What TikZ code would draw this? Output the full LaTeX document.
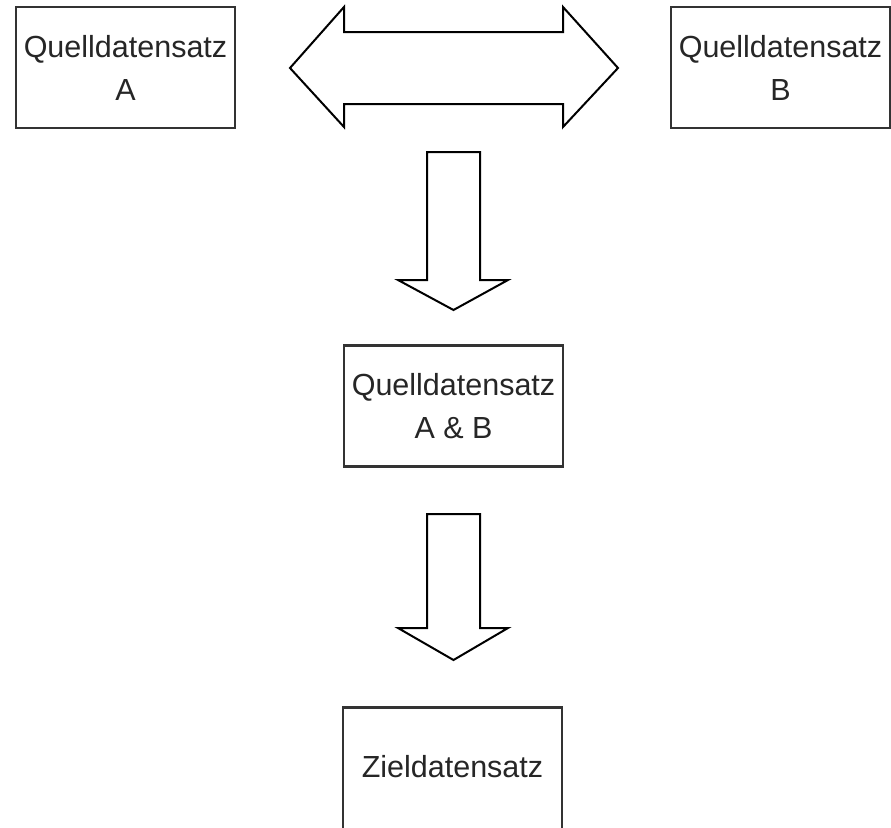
\documentclass[tikz,border=0pt]{standalone}
\usepackage{fontspec}
\setmainfont{Liberation Sans}
\begin{document}
\begin{tikzpicture}[x=1pt,y=-1pt,
  databox/.style={draw=black!80, line width=2.5pt, fill=white, minimum width=219pt, minimum height=121pt, inner sep=0pt, align=center, text=black!85, font=\fontsize{30.5}{43}\selectfont},
  blockarrow/.style={draw=black, line width=2pt, fill=white, line join=miter}]
\useasboundingbox (0,0) rectangle (891,827);
\clip (0,0) rectangle (891,827);
\node[databox] (A) at (125.5,67.5) {Quelldatensatz\\A};
\node[databox] (B) at (780.5,67.5) {Quelldatensatz\\B};
\node[databox] (AB) at (453.5,406) {Quelldatensatz\\A \& B};
\node[databox, minimum height=127pt, text depth=8.5pt] (Z) at (452.5,771) {Zieldatensatz};
% double arrow between A and B
\draw[blockarrow] (290,68) -- (344,7) -- (344,32) -- (563,32) -- (563,7) -- (618,68)
  -- (563,127) -- (563,104) -- (344,104) -- (344,127) -- cycle;
% down arrow to AB
\draw[blockarrow] (427,152) -- (480,152) -- (480,280) -- (508,280) -- (453.5,310)
  -- (398,280) -- (427,280) -- cycle;
% down arrow to Ziel
\draw[blockarrow] (427,514) -- (480,514) -- (480,628) -- (508,628) -- (453.5,660)
  -- (398,628) -- (427,628) -- cycle;
\end{tikzpicture}
\end{document}
